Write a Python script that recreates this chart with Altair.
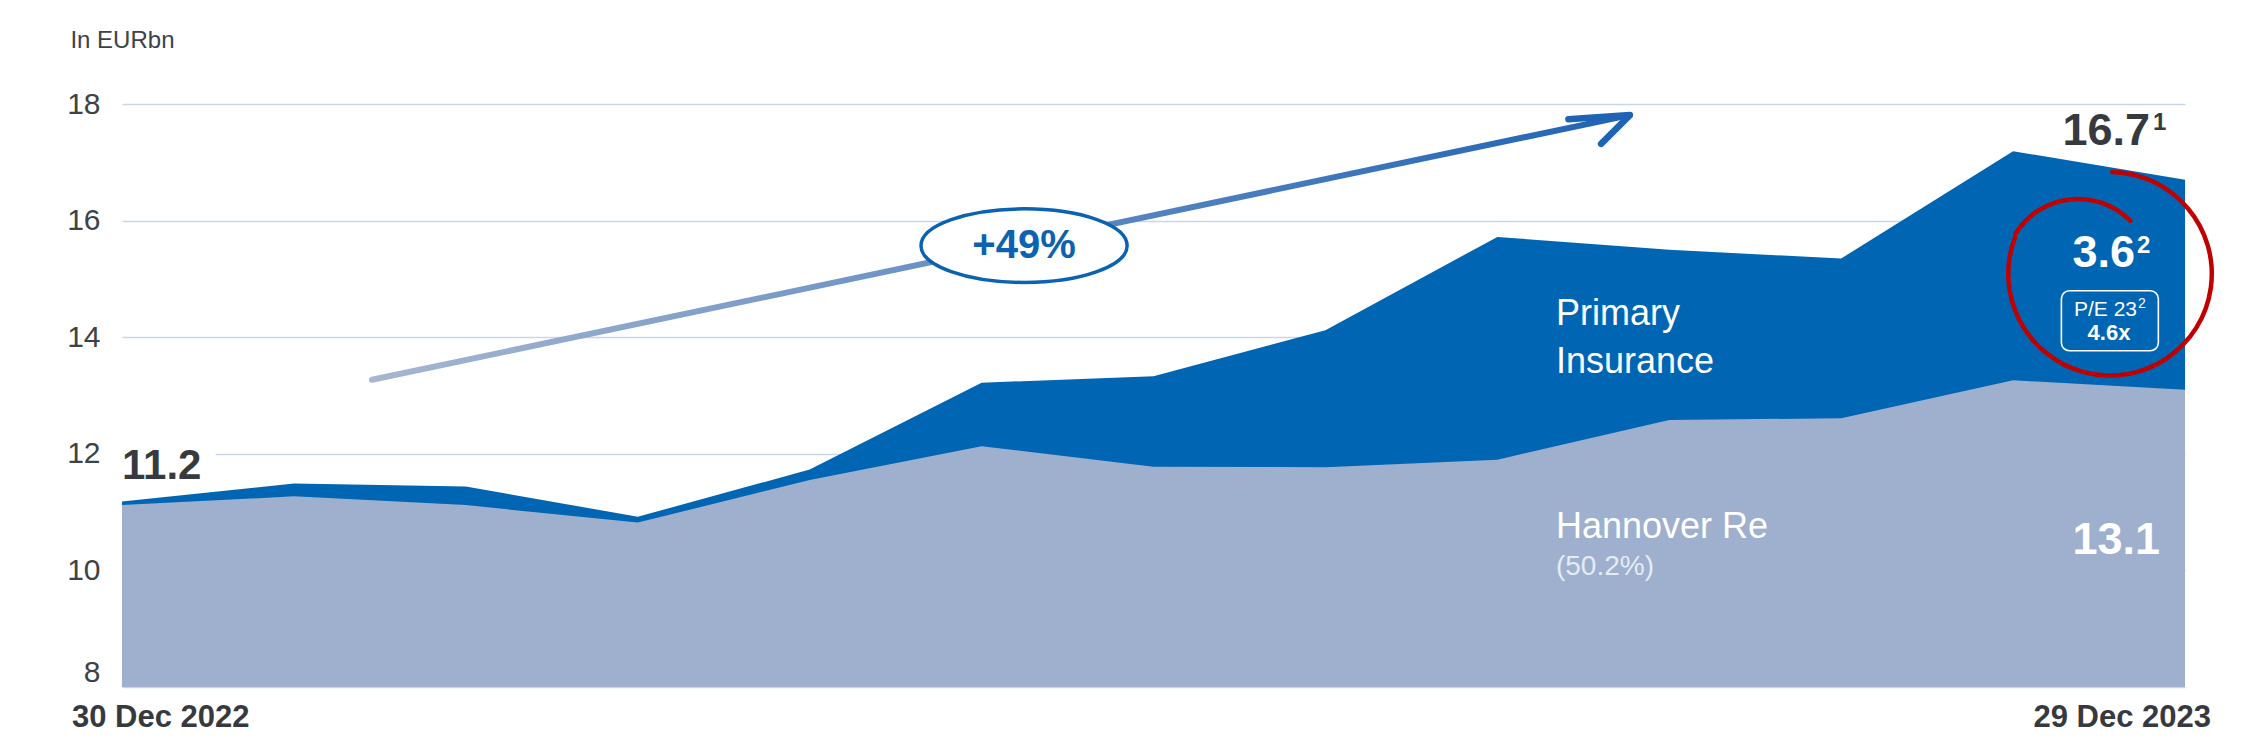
import altair as alt
import pandas as pd

# ---- data (EUR bn) ----
months = ["30 Dec 2022", "Jan 2023", "Feb 2023", "Mar 2023", "Apr 2023", "May 2023",
          "Jun 2023", "Jul 2023", "Aug 2023", "Sep 2023", "Oct 2023", "Nov 2023", "29 Dec 2023"]
total_mcap = [11.18, 11.49, 11.44, 10.92, 11.73, 13.22, 13.33, 14.12, 15.72, 15.50, 15.35, 17.19, 16.70]
hannover_re = [11.12, 11.27, 11.12, 10.82, 11.55, 12.13, 11.78, 11.77, 11.90, 12.58, 12.61, 13.26, 13.10]
y_ticks = [8, 10, 12, 14, 16, 18]

df = pd.DataFrame({"i": list(range(len(months))), "month": months,
                   "total": total_mcap, "hannover": hannover_re})

FONT = "Liberation Sans"
DARK = "#363a3f"
BLUE = "#0065b2"
GREY_BLUE = "#9eb0cd"
RED = "#c00000"
ELL_BLUE = "#0a62b0"

xs = alt.Scale(domain=[0, 12], nice=False, zero=False)
ys = alt.Scale(domain=[8, 18], nice=False, zero=False)

y_axis = alt.Axis(
    values=y_ticks, title=None, domain=False, ticks=False, grid=True,
    gridColor="#c9d5e8", gridWidth=1.3, labelFont=FONT, labelFontSize=30,
    labelColor="#3d4247", labelPadding=22, format="d",
    labelBaseline=alt.condition("datum.value == 8", alt.value("bottom"), alt.value("middle")),
)

one = pd.DataFrame({"k": [0]})


def X(v):
    return alt.XDatum(v, scale=xs, axis=None)


def Y(v):
    return alt.YDatum(v, scale=ys, axis=y_axis)


def label(text, x, y, size, color=DARK, weight="normal", align="left", dx=0, opacity=1.0):
    return alt.Chart(one).mark_text(
        text=text, font=FONT, fontSize=size, fontWeight=weight, color=color,
        align=align, baseline="middle", dx=dx, opacity=opacity
    ).encode(x=X(x), y=Y(y))


base = alt.Chart(df)
blue_area = base.mark_area(color=BLUE, opacity=1).encode(
    x=alt.X("i:Q", scale=xs, axis=None),
    y=alt.Y("total:Q", scale=ys, axis=y_axis),
    y2=alt.Y2Datum(8),
)
grey_area = base.mark_area(color=GREY_BLUE, opacity=1).encode(
    x=alt.X("i:Q", scale=xs, axis=None),
    y=alt.Y("hannover:Q", scale=ys, axis=y_axis),
    y2=alt.Y2Datum(8),
)

# white box behind the start value
start_box = alt.Chart(one).mark_rect(color="white").encode(
    x=X(0), x2=alt.X2Datum(0.545), y=Y(11.72), y2=alt.Y2Datum(12.3))

# growth arrow
arrow_line = alt.Chart(one).mark_rule(
    stroke=alt.LinearGradient(
        gradient="linear",
        stops=[alt.GradientStop(color="#a6b6d1", offset=0),
               alt.GradientStop(color="#1f63b5", offset=1)],
        x1=0, x2=1, y1=0, y2=0),
    strokeWidth=6, strokeCap="round",
).encode(x=X(1.454), y=Y(13.27), x2=alt.X2Datum(8.771), y2=alt.Y2Datum(17.81))

arrow_head = alt.Chart(one).mark_point(
    shape="M -2.05,0.14 L 0,0 L -0.96,0.96", size=3600, filled=False, color="#1f63b5",
    stroke="#1f63b5", strokeWidth=6.5, strokeCap="round", strokeJoin="round",
    opacity=1,
).encode(x=X(8.771), y=Y(17.81))

ellipse = alt.Chart(one).mark_point(
    shape="M -1.4,0 A 1.4,0.5 0 1,1 1.4,0 A 1.4,0.5 0 1,1 -1.4,0 Z",
    size=21670, filled=True, fill="white", stroke=ELL_BLUE, strokeWidth=3.5, opacity=1,
).encode(x=X(5.247), y=Y(15.57))

pe_box = alt.Chart(one).mark_rect(
    cornerRadius=8, fill="white", fillOpacity=0, stroke="white", strokeWidth=1.6
).encode(x=X(11.281), x2=alt.X2Datum(11.845), y=Y(14.796), y2=alt.Y2Datum(13.767))

red_arc1 = alt.Chart(one).mark_arc(
    radius=104, radius2=99.5, theta=0.0, theta2=5.1, color=RED, cornerRadius=2
).encode(x=X(11.564), y=Y(15.087))
red_arc2 = alt.Chart(one).mark_arc(
    radius=76, radius2=71.5, theta=5.24, theta2=7.10, color=RED, cornerRadius=2
).encode(x=X(11.378), y=Y(15.105))

texts = [
    label("In EURbn", -0.30, 19.08, 24, color="#3d4247"),
    label("11.2", 0, 11.79, 42, weight="bold"),
    label("+49%", 5.247, 15.57, 40, color=ELL_BLUE, weight="bold", align="center"),
    label("Primary", 8.341, 14.39, 36, color="white"),
    label("Insurance", 8.341, 13.58, 36, color="white"),
    label("Hannover Re", 8.341, 10.75, 36, color="white"),
    label("(50.2%)", 8.341, 10.06, 28, color="#e4ebf5"),
    label("16.7", 12, 17.53, 45, weight="bold", align="right", dx=-35),
    label("1", 12, 17.68, 24, weight="bold", align="left", dx=-32),
    label("3.6", 12, 15.44, 45, color="white", weight="bold", align="right", dx=-50),
    label("2", 12, 15.57, 24, color="white", weight="bold", align="left", dx=-48),
    label("P/E 23", 12, 14.47, 21, color="white", align="right", dx=-48),
    label("2", 12, 14.57, 14, color="white", align="left", dx=-47),
    label("4.6x", 12, 14.08, 22, color="white", weight="bold", align="center", dx=-76),
    label("13.1", 12, 10.525, 45, color="white", weight="bold", align="right", dx=-25),
    label(months[0], 0, 7.47, 31, weight="bold", align="left", dx=-50),
    label(months[-1], 12, 7.47, 31, weight="bold", align="right", dx=26),
]

chart = alt.layer(
    blue_area, grey_area, start_box, arrow_line, arrow_head, ellipse, pe_box,
    red_arc1, red_arc2, *texts
).properties(
    width=2063, height=583,
    autosize=alt.AutoSizeParams(type="none"),
    padding={"left": 114, "top": 96, "right": 40, "bottom": 50},
    background="white",
).configure_view(strokeWidth=0)

chart.save("out.html", embed_options={"renderer": "svg", "actions": False})
